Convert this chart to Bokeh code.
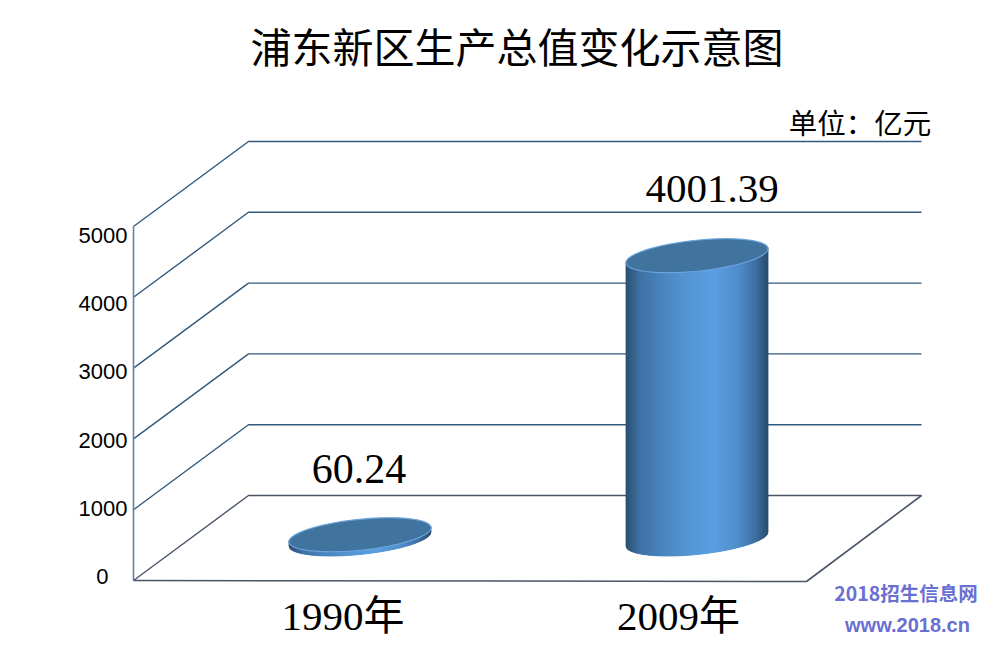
import numpy as np
from bokeh.plotting import figure
from bokeh.models import Range1d
from bokeh.core.properties import value
from bokeh.embed import file_html
from bokeh.resources import INLINE

title = "浦东新区生产总值变化示意图"
unit_label = "单位：亿元"
categories = ["1990年", "2009年"]
gdp_values = [60.24, 4001.39]
gdp_labels = ["60.24", "4001.39"]
tick_values = [0, 1000, 2000, 3000, 4000, 5000]
tick_labels = ["0", "1000", "2000", "3000", "4000", "5000"]
watermark = ["2018招生信息网", "www.2018.cn"]

# layout, in reference pixels
PX_PER_UNIT_Y = 0.0708
Y0 = 580.0
CAT0_X = 359.5
CAT_STEP = 337.0
W, H = 984, 640

def vy(py):
    return (Y0 - np.asarray(py, dtype=float)) / PX_PER_UNIT_Y

def cx(px):
    return (np.asarray(px, dtype=float) - CAT0_X) / CAT_STEP

p = figure(width=W, height=H, output_backend="svg", toolbar_location=None,
           x_range=Range1d(float(cx(0)), float(cx(W))),
           y_range=Range1d(float(vy(H)), float(vy(0))),
           min_border=0, outline_line_color=None,
           background_fill_color="white", border_fill_color="white")
p.axis.visible = False
p.grid.visible = False

# 3D walls
DX, DY = 115.0, 85.0
FRONT_L, FRONT_R = 133.0, 806.0
GRID = "#33597c"
FLOOR = "#4a5568"
for t in tick_values:
    back = vy(Y0 - DY) + t
    col = FLOOR if t == 0 else GRID
    p.line(cx([FRONT_L, FRONT_L + DX, FRONT_R + DX]),
           [t, back, back], line_color=col, line_width=1.4)
p.line(cx([FRONT_L, FRONT_L]), [tick_values[0], tick_values[-1]],
       line_color="#5d83a6", line_width=1.6)
back0 = vy(Y0 - DY)
p.line(cx([FRONT_L, FRONT_R, FRONT_R + DX]), [0, vy(581), back0],
       line_color=FLOOR, line_width=1.6)

# cylinders
A, B, SHEAR = 71.0, 15.5, 7.0
BASE_PY = 538.5
stops_u = [0.0, 0.03, 0.1, 0.25, 0.45, 0.62, 0.8, 0.92, 0.98, 1.0]
stops_c = [(44, 78, 112), (50, 90, 130), (64, 114, 164), (74, 133, 190),
           (86, 152, 214), (92, 160, 226), (80, 142, 202), (62, 110, 160),
           (48, 86, 124), (44, 78, 112)]
stops_c = np.array(stops_c, dtype=float)

def cyl_color(u):
    c = [int(np.interp(u, stops_u, stops_c[:, i])) for i in range(3)]
    return "#%02x%02x%02x" % tuple(c)

def lower_curve(xoff, cy):
    k = xoff / A
    return cy - SHEAR * k + B * np.sqrt(np.clip(1 - k * k, 0, 1))

for i, v in enumerate(gdp_values):
    cpx = CAT0_X + i * CAT_STEP
    top_py = BASE_PY - v * PX_PER_UNIT_Y
    edges = np.linspace(-A, A, 143)
    xs, ys, cols = [], [], []
    for e0, e1 in zip(edges[:-1], edges[1:]):
        xs.append(cx([cpx + e0, cpx + e1, cpx + e1, cpx + e0]).tolist())
        ys.append(vy([lower_curve(e0, BASE_PY), lower_curve(e1, BASE_PY),
                      lower_curve(e1, top_py) - 1, lower_curve(e0, top_py) - 1]).tolist())
        cols.append(cyl_color(((e0 + e1) / 2 + A) / (2 * A)))
    p.patches(xs, ys, fill_color=cols, line_color=cols, line_width=0.8)
    t = np.linspace(0, 2 * np.pi, 160)
    ex = cpx + A * np.cos(t)
    ey = top_py - SHEAR * np.cos(t) - B * np.sin(t)
    p.patch(cx(ex), vy(ey), fill_color="#41739f", line_color="#6ba4dc", line_width=1.2)

# texts
def label(txt, px, py, size, font, color="black", style="normal"):
    p.text([float(cx(px))], [float(vy(py))], text=[txt], text_font=value(font),
           text_font_size=f"{size}px", text_color=color, text_align="center",
           text_baseline="middle", text_font_style=style)

SERIF = "Liberation Serif, Noto Sans CJK SC"
CJK = "Noto Sans CJK SC"
label(title, 516.5, 44, 41, CJK)
label(unit_label, 859.5, 121, 28.5, CJK)
for t, s in zip(tick_values, tick_labels):
    py = 576 - (t / 5000) * 341
    right = 127 if len(s) > 1 else 108
    p.text([float(cx(right))], [float(vy(py))], text=[s], text_font=value("Liberation Sans"),
           text_font_size="22px", text_color="black", text_align="right", text_baseline="middle")
label(categories[0], 342.5, 615, 41, SERIF)
label(categories[1], 678, 615, 41, SERIF)
label(gdp_labels[0], 358.5, 468, 42, "Liberation Serif")
label(gdp_labels[1], 711.5, 188, 41, "Liberation Serif")
label(watermark[0], 905.5, 592, 19.5, CJK, "#6a6fd2", "bold")
label(watermark[1], 907, 624, 20, "Liberation Sans", "#6a6fd2", "bold")

open("out.html", "w").write(file_html(p, INLINE))
